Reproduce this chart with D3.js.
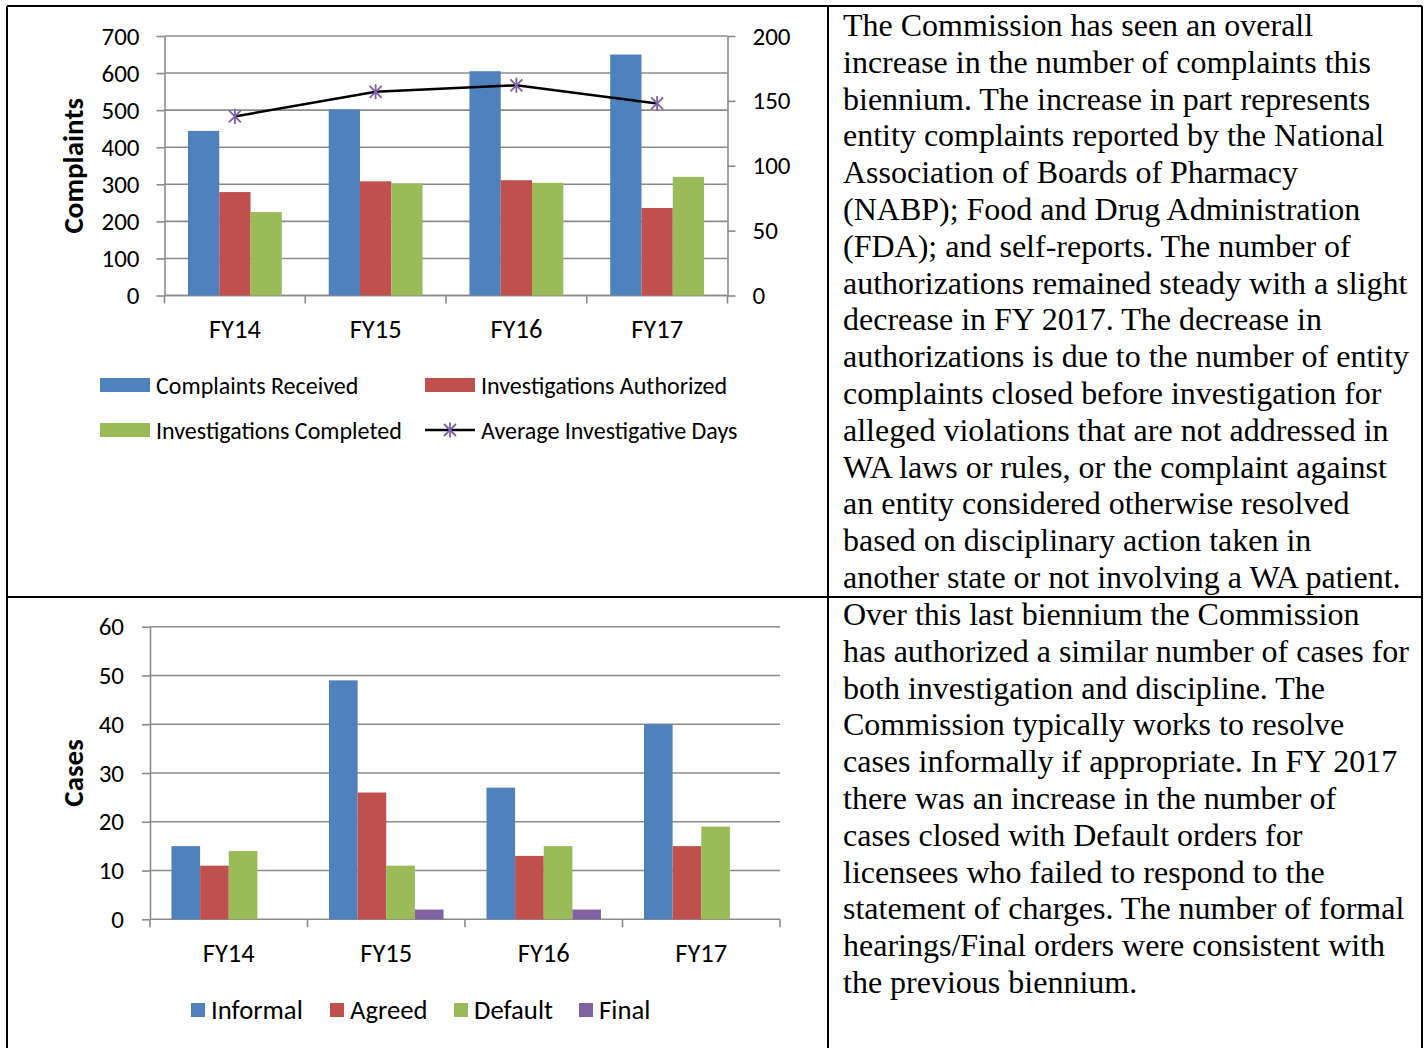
<!DOCTYPE html>
<html>
<head>
<meta charset="utf-8">
<script src="https://cdn.jsdelivr.net/npm/d3@7"></script>
<style>
  body { margin: 0; background: #fff; }
  svg { display: block; }
</style>
</head>
<body>
<div id="page"></div>
<script>
// dati grafico 1 (reclami)
const categories = ["FY14", "FY15", "FY16", "FY17"];
const complaintsReceived = [444, 502, 605, 650];
const investigationsAuthorized = [279, 308, 311, 236];
const investigationsCompleted = [225, 302, 304, 320];
const avgInvestigativeDays = [138, 157, 162, 148];
const leftTicks = [0, 100, 200, 300, 400, 500, 600, 700];
const rightTicks = [0, 50, 100, 150, 200];
const topSeries = ["Complaints Received", "Investigations Authorized", "Investigations Completed"];
const lineSeries = "Average Investigative Days";

// dati grafico 2 (casi)
const informal = [15, 49, 27, 40];
const agreed = [11, 26, 13, 15];
const defaultOrders = [14, 11, 15, 19];
const finalOrders = [0, 2, 2, 0];
const caseTicks = [0, 10, 20, 30, 40, 50, 60];
const caseSeries = ["Informal", "Agreed", "Default", "Final"];

// testo delle celle
const topText = [
  "The Commission has seen an overall",
  "increase in the number of complaints this",
  "biennium. The increase in part represents",
  "entity complaints reported by the National",
  "Association of Boards of Pharmacy",
  "(NABP); Food and Drug Administration",
  "(FDA); and self-reports. The number of",
  "authorizations remained steady with a slight",
  "decrease in FY 2017. The decrease in",
  "authorizations is due to the number of entity",
  "complaints closed before investigation for",
  "alleged violations that are not addressed in",
  "WA laws or rules, or the complaint against",
  "an entity considered otherwise resolved",
  "based on disciplinary action taken in",
  "another state or not involving a WA patient."
];
const bottomText = [
  "Over this last biennium the Commission",
  "has authorized a similar number of cases for",
  "both investigation and discipline. The",
  "Commission typically works to resolve",
  "cases informally if appropriate. In FY 2017",
  "there was an increase in the number of",
  "cases closed with Default orders for",
  "licensees who failed to respond to the",
  "statement of charges. The number of formal",
  "hearings/Final orders were consistent with",
  "the previous biennium."
];

const colors = ["#4F81BD", "#C0504D", "#9BBB59", "#8064A2"];
const axisGray = "#8C8C8C";
const chartFont = "Carlito, Lato, sans-serif";
const serifFont = "'Liberation Serif', 'Times New Roman', serif";

const width = 1427, height = 1048;
const svg = d3.select('#page').append('svg')
    .attr('width', width)
    .attr('height', height)
    .style('background', '#fff');

// stella (asterisco) come marker di Excel
function starPath(s) {
    const d = s * 0.8;
    return `M0,${-s}L0,${s}M${-d},${-d}L${d},${d}M${-d},${d}L${d},${-d}`;
}

// ---------- grafico 1 ----------
const p1 = { left: 164.5, right: 727.5, top: 36, bottom: 295.5 };
const x0 = d3.scaleBand().domain(categories).range([p1.left, p1.right]);
const x1 = d3.scaleBand().domain(topSeries).range([0, x0.bandwidth()]).paddingOuter(0.75);
const yL = d3.scaleLinear().domain([0, 700]).range([p1.bottom, p1.top]);
const yR = d3.scaleLinear().domain([0, 200]).range([p1.bottom, p1.top]);

const g1 = svg.append('g');

// griglia
g1.selectAll('line.grid').data(leftTicks).join('line')
    .attr('x1', p1.left).attr('x2', p1.right)
    .attr('y1', d => yL(d)).attr('y2', d => yL(d))
    .attr('stroke', axisGray).attr('stroke-width', 1.6);

// asse sinistro
const axL = g1.append('g').attr('transform', `translate(${p1.left},0)`)
    .call(d3.axisLeft(yL).tickValues(leftTicks).tickSize(8).tickSizeOuter(0).tickPadding(17));
// asse destro
const axR = g1.append('g').attr('transform', `translate(${p1.right},0)`)
    .call(d3.axisRight(yR).tickValues(rightTicks).tickSize(8).tickSizeOuter(0).tickPadding(17));
[axL, axR].forEach(a => {
    a.select('.domain').attr('stroke', axisGray).attr('stroke-width', 1.6);
    a.selectAll('.tick line').attr('stroke', axisGray).attr('stroke-width', 1.6);
    a.selectAll('.tick text').attr('fill', '#000').style('font-family', chartFont).style('font-size', '25px');
});

// asse x con tacche ai bordi delle categorie
const bounds1 = categories.map(c => x0(c)).concat([p1.right]);
g1.append('line').attr('x1', p1.left).attr('x2', p1.right)
    .attr('y1', yL(0)).attr('y2', yL(0)).attr('stroke', axisGray).attr('stroke-width', 1.6);
g1.selectAll('line.xt').data(bounds1).join('line')
    .attr('x1', d => d).attr('x2', d => d)
    .attr('y1', yL(0)).attr('y2', yL(0) + 8)
    .attr('stroke', axisGray).attr('stroke-width', 1.6);
g1.selectAll('text.cat').data(categories).join('text')
    .attr('x', d => x0(d) + x0.bandwidth() / 2)
    .attr('y', 329)
    .attr('text-anchor', 'middle').attr('dominant-baseline', 'central')
    .style('font-family', chartFont).style('font-size', '26.5px')
    .text(d => d);

// barre
const topValues = [complaintsReceived, investigationsAuthorized, investigationsCompleted];
topSeries.forEach((s, si) => {
    g1.selectAll(null).data(categories).join('rect')
        .attr('x', d => x0(d) + x1(s))
        .attr('y', (d, i) => yL(topValues[si][i]))
        .attr('width', x1.bandwidth())
        .attr('height', (d, i) => yL(0) - yL(topValues[si][i]))
        .attr('fill', colors[si]);
});

// linea giorni medi
const line = d3.line()
    .x((d, i) => x0(categories[i]) + x0.bandwidth() / 2)
    .y(d => yR(d));
g1.append('path').datum(avgInvestigativeDays)
    .attr('d', line).attr('fill', 'none')
    .attr('stroke', '#000').attr('stroke-width', 2.5);
g1.selectAll('path.star').data(avgInvestigativeDays).join('path')
    .attr('transform', (d, i) => `translate(${x0(categories[i]) + x0.bandwidth() / 2},${yR(d)})`)
    .attr('d', starPath(7.5))
    .attr('stroke', '#7E62A6').attr('stroke-width', 1.8).attr('fill', 'none');

// titolo asse
g1.append('text')
    .attr('transform', `translate(73,${(p1.top + p1.bottom) / 2}) rotate(-90)`)
    .attr('text-anchor', 'middle').attr('dominant-baseline', 'central')
    .style('font-family', chartFont).style('font-size', '29px').style('font-weight', 'bold')
    .text('Complaints');

// legenda
const leg1 = [
    { name: topSeries[0], x: 100, y: 385, type: 'rect', color: colors[0] },
    { name: topSeries[1], x: 425, y: 385, type: 'rect', color: colors[1] },
    { name: topSeries[2], x: 100, y: 430, type: 'rect', color: colors[2] },
    { name: lineSeries, x: 425, y: 430, type: 'line', color: '#000' }
];
leg1.forEach(l => {
    if (l.type === 'rect') {
        g1.append('rect').attr('x', l.x).attr('y', l.y - 7).attr('width', 50).attr('height', 14).attr('fill', l.color);
    } else {
        g1.append('line').attr('x1', l.x).attr('x2', l.x + 50).attr('y1', l.y).attr('y2', l.y)
            .attr('stroke', '#000').attr('stroke-width', 2.5);
        g1.append('path').attr('transform', `translate(${l.x + 25},${l.y})`).attr('d', starPath(7.5))
            .attr('stroke', '#7E62A6').attr('stroke-width', 1.8).attr('fill', 'none');
    }
    g1.append('text').attr('x', l.x + 56).attr('y', l.y).attr('dominant-baseline', 'central')
        .style('font-family', chartFont).style('font-size', '24px').text(l.name);
});

// ---------- grafico 2 ----------
const p2 = { left: 150, right: 780, top: 626.7, bottom: 919.3 };
const c0 = d3.scaleBand().domain(categories).range([p2.left, p2.right]);
const c1 = d3.scaleBand().domain(caseSeries).range([0, c0.bandwidth()]).paddingOuter(0.75);
const yC = d3.scaleLinear().domain([0, 60]).range([p2.bottom, p2.top]);

const g2 = svg.append('g');
g2.selectAll('line.grid').data(caseTicks).join('line')
    .attr('x1', p2.left).attr('x2', p2.right)
    .attr('y1', d => yC(d)).attr('y2', d => yC(d))
    .attr('stroke', axisGray).attr('stroke-width', 1.6);
const axC = g2.append('g').attr('transform', `translate(${p2.left},0)`)
    .call(d3.axisLeft(yC).tickValues(caseTicks).tickSize(8).tickSizeOuter(0).tickPadding(18));
axC.select('.domain').attr('stroke', axisGray).attr('stroke-width', 1.6);
axC.selectAll('.tick line').attr('stroke', axisGray).attr('stroke-width', 1.6);
axC.selectAll('.tick text').attr('fill', '#000').style('font-family', chartFont).style('font-size', '25px');

const bounds2 = categories.map(c => c0(c)).concat([p2.right]);
g2.selectAll('line.xt').data(bounds2).join('line')
    .attr('x1', d => d).attr('x2', d => d)
    .attr('y1', yC(0)).attr('y2', yC(0) + 8)
    .attr('stroke', axisGray).attr('stroke-width', 1.6);
g2.selectAll('text.cat').data(categories).join('text')
    .attr('x', d => c0(d) + c0.bandwidth() / 2)
    .attr('y', 953)
    .attr('text-anchor', 'middle').attr('dominant-baseline', 'central')
    .style('font-family', chartFont).style('font-size', '26.5px')
    .text(d => d);

const caseValues = [informal, agreed, defaultOrders, finalOrders];
caseSeries.forEach((s, si) => {
    g2.selectAll(null).data(categories).join('rect')
        .attr('x', d => c0(d) + c1(s))
        .attr('y', (d, i) => yC(caseValues[si][i]))
        .attr('width', c1.bandwidth())
        .attr('height', (d, i) => yC(0) - yC(caseValues[si][i]))
        .attr('fill', colors[si]);
});

g2.append('text')
    .attr('transform', `translate(73,${(p2.top + p2.bottom) / 2}) rotate(-90)`)
    .attr('text-anchor', 'middle').attr('dominant-baseline', 'central')
    .style('font-family', chartFont).style('font-size', '29px').style('font-weight', 'bold')
    .text('Cases');

const leg2x = [191, 330, 454, 579];
caseSeries.forEach((s, i) => {
    g2.append('rect').attr('x', leg2x[i]).attr('y', 1003).attr('width', 14).attr('height', 14).attr('fill', colors[i]);
    g2.append('text').attr('x', leg2x[i] + 20).attr('y', 1010).attr('dominant-baseline', 'central')
        .style('font-family', chartFont).style('font-size', '26.7px').text(s);
});

// ---------- testo ----------
function drawLines(lines, y0) {
    svg.append('g').selectAll('text').data(lines).join('text')
        .attr('x', 843)
        .attr('y', (d, i) => y0 + i * 36.8)
        .style('font-family', serifFont).style('font-size', '32px')
        .text(d => d);
}
drawLines(topText, 36);
drawLines(bottomText, 625);

// ---------- bordi tabella ----------
const borders = [
    [7, 6, 1422, 6], [7, 6, 7, 1048], [1422, 6, 1422, 1048],
    [828, 6, 828, 1048], [7, 597, 1422, 597]
];
svg.append('g').selectAll('line').data(borders).join('line')
    .attr('x1', d => d[0]).attr('y1', d => d[1]).attr('x2', d => d[2]).attr('y2', d => d[3])
    .attr('stroke', '#000').attr('stroke-width', 2);
</script>
</body>
</html>
